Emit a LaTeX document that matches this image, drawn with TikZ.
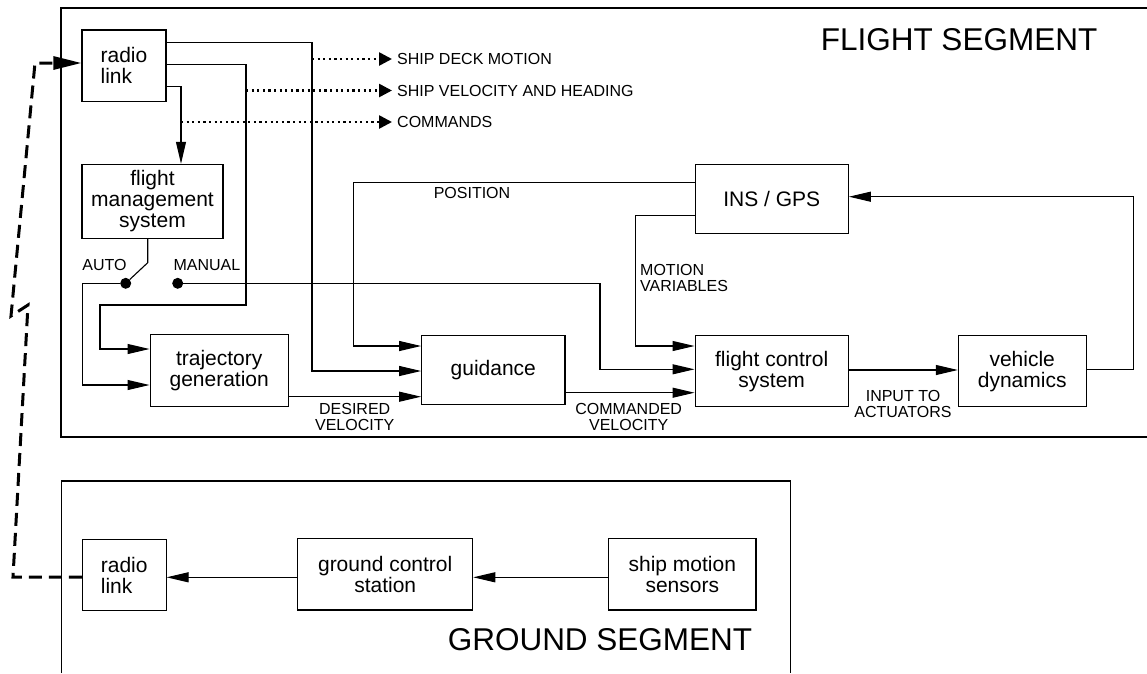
\documentclass[tikz,border=0pt]{standalone}
\usepackage{fontspec}
\setmainfont{Liberation Sans}
\usetikzlibrary{arrows.meta}
\begin{document}
\begin{tikzpicture}[x=1pt,y=-1pt,
  box/.style={draw,line width=1.1pt,inner sep=0pt,align=center,font=\fontsize{21}{21}\selectfont},
  lbl/.style={inner sep=0pt,align=center,font=\fontsize{16}{16}\selectfont},
  ttl/.style={inner sep=0pt,font=\fontsize{31.5}{32}\selectfont},
  wire/.style={line width=1.1pt},
  arr/.style={wire,-{Triangle[length=22pt,width=10pt]}},
  dotarr/.style={line width=2.6pt,dash pattern=on 2.2pt off 3.4pt,-{Triangle[length=13pt,width=13pt]}},
  dasharr/.style={line width=3pt,dash pattern=on 13pt off 7pt,-{Triangle[length=28pt,width=13pt]}},
  dot/.style={circle,fill,inner sep=0pt,minimum size=11pt}]
\useasboundingbox (0,0) rectangle (1147,673);

% segment frames
\draw[line width=2.5pt] (1147,8) -- (61,8) -- (61,437) -- (1147,437);
\draw[line width=1.1pt] (61.7,673) -- (61.7,481) -- (790.7,481) -- (790.7,673);
\node[ttl] (fst) at (959,40) {FLIGHT SEGMENT};
\node[ttl] (gst) at (600,640) {GROUND SEGMENT};

% blocks
\node[box,minimum width=84pt,minimum height=71.5pt,align=left] (rl1) at (124,65.75) {radio\\link};
\node[box,minimum width=141pt,minimum height=74pt] (fms) at (152.5,201.3) {flight\\management\\system};
\node[box,minimum width=138.3pt,minimum height=71.7pt] (traj) at (219.2,370.2) {trajectory\\generation};
\node[box,minimum width=143.3pt,minimum height=68.6pt] (guid) at (493.3,370) {guidance};
\node[box,minimum width=153.3pt,minimum height=71pt] (fcs) at (771.7,371.2) {flight control\\system};
\node[box,minimum width=153.3pt,minimum height=69.3pt] (ins) at (771.7,198.7) {INS / GPS};
\node[box,minimum width=127.7pt,minimum height=71pt] (vd) at (1022.2,371.2) {vehicle\\dynamics};
\node[box,minimum width=83.7pt,minimum height=71.7pt,align=left] (rl2) at (124.2,574.9) {radio\\link};
\node[box,minimum width=175pt,minimum height=71.3pt] (gcs) at (385.2,574.3) {ground control\\station};
\node[box,minimum width=147.3pt,minimum height=71.3pt] (sms) at (682.3,574.3) {ship motion\\sensors};

% switch
\node[dot] (dauto) at (125.7,283.3) {};
\node[dot] (dman) at (177.7,283.3) {};
\node[lbl] (lauto) at (104.5,265) {AUTO};
\node[lbl] (lman) at (206.9,265) {MANUAL};
\coordinate (sw) at (147.7,262.7);
\draw[wire] (sw |- fms.south) -- (sw) -- (dauto);
\draw[arr] (dauto) -- (82.3,283.3) -- (82.3,385) -- (traj.west |- 0,385);
\draw[arr] (dman) -- (600,283.3) -- (600,369.3) -- (fcs.west |- 0,369.3);

% radio link outputs
\draw[arr] (rl1.east |- 0,42.7) -- (312,42.7) -- (312,371) -- (guid.west |- 0,371);
\draw[arr] (rl1.east |- 0,64.3) -- (246,64.3) -- (246,305) -- (100,305) -- (100,349) -- (traj.west |- 0,349);
\draw[arr] (rl1.east |- 0,86.7) -- (181,86.7) -- (fms.north -| 181,0);

% dotted outputs
\node[lbl,anchor=west,inner xsep=5pt] (o1) at (392,59) {SHIP DECK MOTION};
\node[lbl,anchor=west,inner xsep=5pt] (o2) at (392,90.5) {SHIP VELOCITY AND HEADING};
\node[lbl,anchor=west,inner xsep=5pt] (o3) at (392,122) {COMMANDS};
\coordinate (b1) at (312,59);
\coordinate (b2) at (246,90.5);
\coordinate (b3) at (181,122);
\draw[dotarr] (b1) -- (o1.west);
\draw[dotarr] (b2) -- (o2.west);
\draw[dotarr] (b3) -- (o3.west);

% INS/GPS feedback
\draw[arr] (ins.west |- 0,182.3) -- (353.3,182.3) -- (353.3,346) -- (guid.west |- 0,346);
\node[lbl] (lpos) at (472,193) {POSITION};
\draw[arr] (ins.west |- 0,215.7) -- (635.7,215.7) -- (635.7,346) -- (fcs.west |- 0,346);
\node[lbl,align=left,anchor=west] (lmv) at (640,278) {MOTION\\VARIABLES};

% forward chain
\draw[arr] (traj.east |- 0,396.7) -- (guid.west |- 0,396.7);
\node[lbl] (ldes) at (354.7,416.5) {DESIRED\\VELOCITY};
\draw[arr] (guid.east |- 0,392.7) -- (fcs.west |- 0,392.7);
\node[lbl] (lcmd) at (628.7,416.5) {COMMANDED\\VELOCITY};
\draw[arr] (fcs.east |- 0,370) -- (vd.west |- 0,370);
\node[lbl] (lact) at (903,404.3) {INPUT TO\\ACTUATORS};
\draw[arr] (vd.east |- 0,369.3) -- (1133.3,369.3) -- (1133.3,196.7) -- (ins.east |- 0,196.7);

% ground segment
\draw[arr] (gcs.west |- 0,577.3) -- (rl2.east |- 0,577.3);
\draw[arr] (sms.west |- 0,577.3) -- (gcs.east |- 0,577.3);

% radio link between segments
\draw[dasharr] (rl2.west |- 0,577) -- (13,577) -- (28,305) -- (11,316) -- (35,63) -- (rl1.west |- 0,63);
\end{tikzpicture}
\end{document}
